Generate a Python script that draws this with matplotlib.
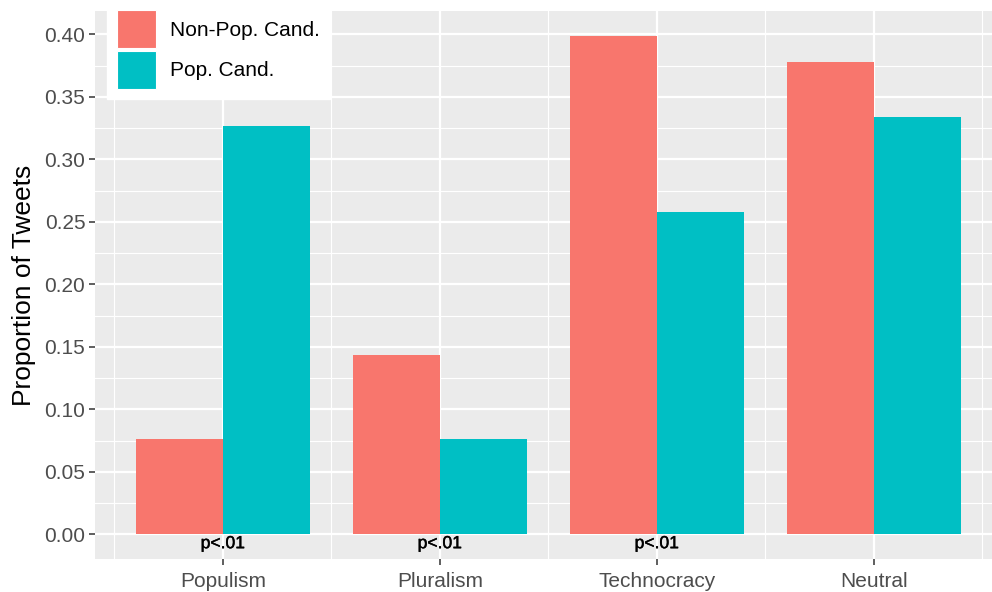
import matplotlib

matplotlib.use("Agg")
import matplotlib.pyplot as plt
import matplotlib.patheffects as pe
import numpy as np
from matplotlib.patches import Patch
from matplotlib.ticker import FormatStrFormatter, MultipleLocator

plt.rcParams["font.family"] = ["Liberation Sans", "DejaVu Sans"]

categories = ["Populism", "Pluralism", "Technocracy", "Neutral"]
groups = ["Non-Pop. Cand.", "Pop. Cand."]
non_pop = [0.0762, 0.1434, 0.3986, 0.378]
pop = [0.327, 0.0762, 0.2578, 0.334]
p_labels = ["p<.01", "p<.01", "p<.01", ""]

colors = ["#F8766D", "#00BFC4"]
W, H = 992, 592

fig = plt.figure(figsize=(W / 100, H / 100), dpi=100)
ax = fig.add_axes([95 / W, (H - 559.3) / H, (W - 95) / W, (559.3 - 11) / H])
ax.set_facecolor("#EBEBEB")

x = np.arange(1, len(categories) + 1)
bw = 0.4
ax.bar(x - bw / 2, non_pop, width=bw, color=colors[0], zorder=3)
ax.bar(x + bw / 2, pop, width=bw, color=colors[1], zorder=3)

for xi, lab in zip(x, p_labels):
    if lab:
        ax.text(xi, -0.0075, lab, ha="center", va="center", fontsize=12.6,
                color="black", zorder=4,
                path_effects=[pe.withStroke(linewidth=0.3, foreground="black")])

ax.set_xlim(0.411, 4.545)
ax.set_ylim(-0.02, 0.4186)
ax.set_xticks(x)
ax.set_xticklabels(categories)
ax.set_xticks(np.arange(0.5, 5, 1), minor=True)
ax.yaxis.set_major_locator(MultipleLocator(0.05))
ax.yaxis.set_minor_locator(MultipleLocator(0.025))
ax.yaxis.set_major_formatter(FormatStrFormatter("%.2f"))

ax.grid(True, which="major", color="white", linewidth=1.6, zorder=0)
ax.grid(True, which="minor", color="white", linewidth=0.8, zorder=0)
ax.set_axisbelow(True)
for s in ax.spines.values():
    s.set_visible(False)

ax.tick_params(which="major", length=4, width=1.1, color="#333333",
               labelcolor="#4D4D4D", labelsize=15, pad=3)
ax.tick_params(axis="x", which="major", pad=5)
ax.tick_params(which="minor", length=0)
ax.set_ylabel("Proportion of Tweets", fontsize=19, color="black", labelpad=6)

# legend keys as ~38px squares, box sitting over the top of the panel
handles = [Patch(facecolor=c, edgecolor="white", linewidth=0.8) for c in colors]
fig.legend(handles, groups, loc="upper left", bbox_to_anchor=(107 / W, 1.0),
           bbox_transform=fig.transFigure, fontsize=15, frameon=True,
           fancybox=False, framealpha=1, edgecolor="white", facecolor="white",
           handlelength=1.83, handleheight=2.43, labelspacing=0.1,
           borderpad=0.5, handletextpad=0.67, borderaxespad=0)

fig.savefig("out.png", dpi=100)
